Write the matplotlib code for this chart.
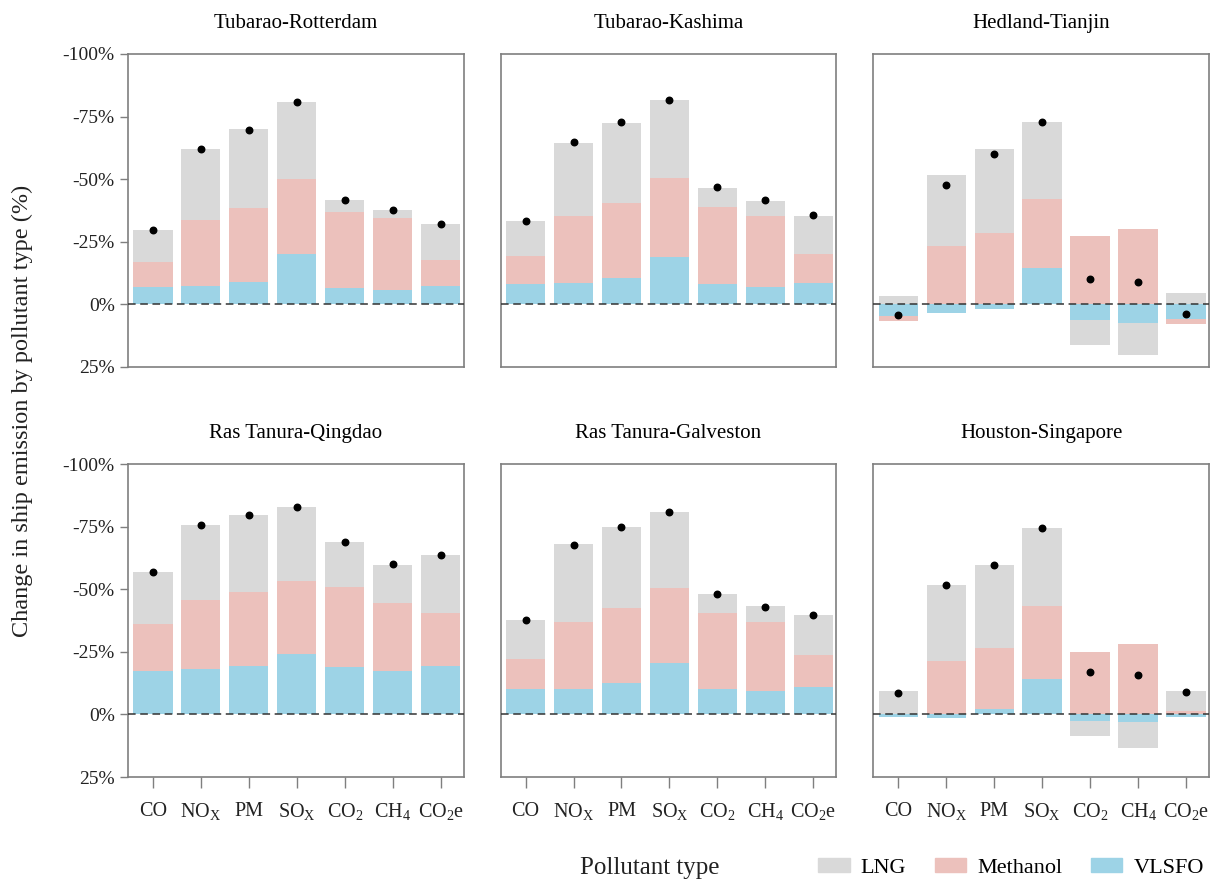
import matplotlib
matplotlib.use('Agg')
import matplotlib.pyplot as plt
import numpy as np
from matplotlib.patches import Patch

plt.rcParams['font.family'] = ['Liberation Serif', 'DejaVu Serif']
plt.rcParams['mathtext.fontset'] = 'custom'
plt.rcParams['mathtext.rm'] = 'Liberation Serif'

# ##data (change in %, negative = reduction)
pollutants = ['CO', r'NO$_\mathregular{X}$', 'PM', r'SO$_\mathregular{X}$',
              r'CO$_\mathregular{2}$', r'CH$_\mathregular{4}$', r'CO$_\mathregular{2}$e']
routes = ['Tubarao-Rotterdam', 'Tubarao-Kashima', 'Hedland-Tianjin',
          'Ras Tanura-Qingdao', 'Ras Tanura-Galveston', 'Houston-Singapore']

lng = [
    [-29.8, -61.9, -69.9, -80.9, -41.8, -37.8, -32.0],
    [-33.3, -64.5, -72.4, -81.5, -46.5, -41.3, -35.2],
    [-3.3, -51.6, -62.0, -72.9, 16.3, 20.2, -4.7],
    [-56.8, -75.6, -79.6, -82.8, -68.8, -59.7, -63.7],
    [-37.9, -68.1, -74.9, -81.0, -48.1, -43.1, -39.9],
    [-9.5, -51.5, -59.6, -74.5, 8.7, 13.5, -9.3],
]
methanol = [
    [-17.0, -33.8, -38.4, -49.9, -36.8, -34.4, -17.9],
    [-19.3, -35.1, -40.5, -50.3, -38.9, -35.3, -20.3],
    [6.6, -23.3, -28.6, -42.1, -27.3, -30.1, 8.0],
    [-36.3, -45.7, -48.8, -53.3, -50.9, -44.3, -40.7],
    [-22.2, -36.8, -42.4, -50.4, -40.6, -37.0, -23.7],
    [0.5, -21.2, -26.5, -43.3, -24.8, -28.3, -1.3],
]
vlsfo = [
    [-7.0, -7.4, -9.1, -20.2, -6.7, -5.7, -7.4],
    [-8.0, -8.7, -10.4, -19.1, -8.0, -6.8, -8.7],
    [4.8, 3.5, 1.7, -14.4, 6.4, 7.4, 5.9],
    [-17.2, -18.3, -19.3, -24.1, -19.1, -17.2, -19.5],
    [-10.2, -10.2, -12.5, -20.5, -10.2, -9.2, -10.9],
    [1.2, 1.5, -2.0, -14.1, 2.5, 2.9, 1.2],
]
points = [
    [-29.8, -61.9, -69.8, -81.0, -41.8, -37.8, -32.0],
    [-33.3, -64.7, -72.7, -81.8, -46.8, -41.6, -35.6],
    [4.1, -47.6, -59.9, -72.9, -10.0, -9.1, 4.0],
    [-56.8, -75.6, -79.6, -82.8, -68.8, -60.0, -63.7],
    [-37.9, -67.8, -74.9, -80.8, -48.0, -42.9, -39.8],
    [-8.5, -51.5, -59.6, -74.5, -16.8, -15.7, -9.1],
]

c_lng = '#d9d9d9'
c_meth = '#ecc1bc'
c_vlsfo = '#9dd3e6'
spine_c = '#7f7f7f'

fig, axes = plt.subplots(2, 3, figsize=(12.3, 8.84), dpi=100)
fig.subplots_adjust(left=0.104, right=0.983, top=0.939, bottom=0.121,
                    wspace=0.11, hspace=0.31)

x = np.arange(len(pollutants))
w = 0.82
for i, ax in enumerate(axes.flat):
    ax.bar(x, lng[i], w, color=c_lng, zorder=1)
    ax.bar(x, methanol[i], w, color=c_meth, zorder=2)
    ax.bar(x, vlsfo[i], w, color=c_vlsfo, zorder=3)
    ax.axhline(0, color='#333333', lw=1.1, ls=(0, (5, 3)), zorder=4)
    ax.scatter(x, points[i], s=22, color='black', zorder=5)
    ax.set_xlim(-0.52, 6.48)
    ax.set_ylim(25, -100)
    ax.set_yticks([-100, -75, -50, -25, 0, 25])
    ax.set_title(routes[i], fontsize=15, pad=19)
    for s in ax.spines.values():
        s.set_color(spine_c)
        s.set_linewidth(1.2)
    ax.tick_params(colors=spine_c, labelcolor='#222222', labelsize=14,
                   length=6, width=1)
    if i % 3 == 0:
        ax.set_yticklabels(['-100%', '-75%', '-50%', '-25%', '0%', '25%'])
    else:
        ax.tick_params(axis='y', left=False, labelleft=False)
    if i < 3:
        ax.tick_params(axis='x', bottom=False, labelbottom=False)
    else:
        ax.set_xticks(x)
        ax.set_xticklabels(pollutants, fontsize=14.5)
        ax.tick_params(axis='x', length=8, pad=10)

fig.text(0.018, 0.535, 'Change in ship emission by pollutant type (%)',
         rotation=90, va='center', ha='center', fontsize=17.5, color='#222222')
fig.text(0.528, 0.018, 'Pollutant type', ha='center', va='center',
         fontsize=18, color='#222222')

handles = [Patch(color=c_lng, label='LNG'),
           Patch(color=c_meth, label='Methanol'),
           Patch(color=c_vlsfo, label='VLSFO')]
fig.legend(handles=handles, loc='center right', bbox_to_anchor=(0.995, 0.018),
           ncol=3, frameon=False, fontsize=16, handlelength=1.4,
           handleheight=0.55, columnspacing=1.3, handletextpad=0.5)

fig.savefig('out.png', dpi=100)
